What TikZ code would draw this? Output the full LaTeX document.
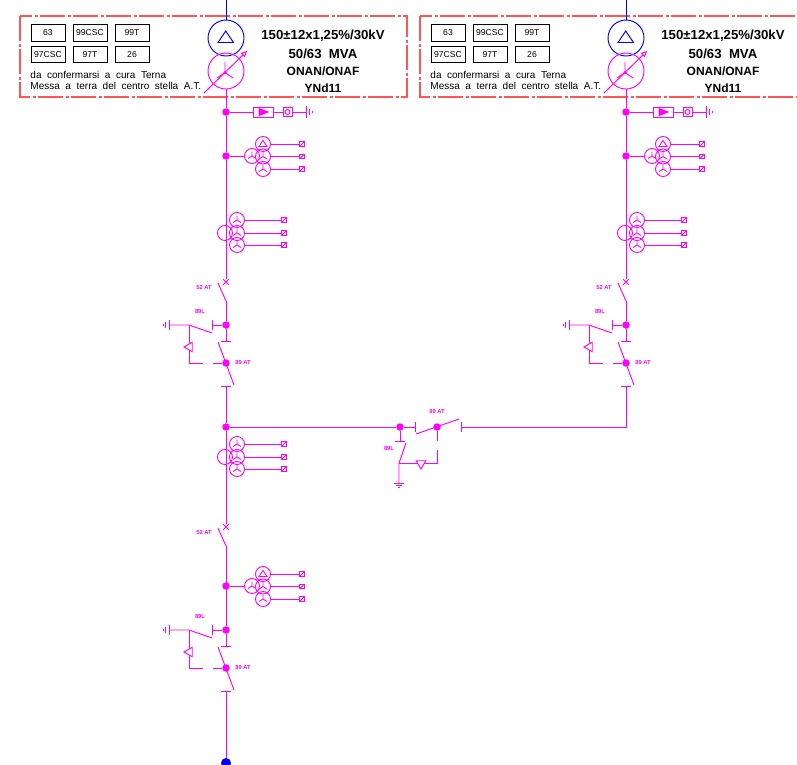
\documentclass[tikz,border=0pt]{standalone}
\usepackage{fontspec}
\setmainfont{Liberation Sans}
\usepackage{tikz}
\usetikzlibrary{shapes,arrows.meta}
\definecolor{plantline}{RGB}{255,0,255}
\definecolor{frameline}{RGB}{255,85,85}
\definecolor{hvline}{RGB}{0,0,255}

\begin{document}
\begin{tikzpicture}[x=1pt,y=-1pt,line width=0.95pt,plantline]
		\tikzstyle{frame}=[draw=frameline,line width=1.1pt,dash pattern=on 25pt off 2.5pt on 3pt off 2.5pt]
		\tikzstyle{relay}=[draw=black,rectangle,line width=0.7pt,text=black,font=\fontsize{8.6}{9}\selectfont,inner sep=0pt,minimum width=34pt,minimum height=16.5pt]
		\tikzstyle{note}=[text=black,font=\fontsize{10}{11}\selectfont,inner sep=0pt,anchor=west]
		\tikzstyle{rating}=[text=black,font=\fontsize{13.2}{14}\selectfont\bfseries,inner sep=0pt]
		\tikzstyle{ratingb}=[text=black,font=\fontsize{12}{14}\selectfont\bfseries,inner sep=0pt]
		\tikzstyle{winding}=[draw,circle,inner sep=0pt,minimum size=36pt]
		\tikzstyle{ring}=[draw,circle,inner sep=0pt,minimum size=15pt]
		\tikzstyle{wye}=[ring,path picture={\draw[line width=0.9pt] (path picture bounding box.center) -- ++(0,-4.5) (path picture bounding box.center) -- ++(-4,2.5) (path picture bounding box.center) -- ++(4,2.5);}]
		\tikzstyle{delta}=[ring,path picture={\draw[line width=0.9pt] ([shift={(-4,2.5)}]path picture bounding box.center) -- ++(8,0) -- ++(-4,-6) -- cycle;}]
		\tikzstyle{term}=[draw,rectangle,inner sep=0pt,minimum size=4.5pt,path picture={\draw[line width=0.8pt] (path picture bounding box.south west) -- (path picture bounding box.north east);}]
		\tikzstyle{blob}=[fill,circle,inner sep=0pt,minimum size=7.5pt]
		\tikzstyle{breaker}=[draw,cross out,inner sep=0pt,minimum size=4.5pt,line width=0.9pt]
		\tikzstyle{tag}=[font=\fontsize{5.8}{6}\selectfont\bfseries,inner sep=0pt]
		\tikzstyle{interlock}=[draw,fill=white,regular polygon,regular polygon sides=3,inner sep=0pt,minimum size=11pt]
		
		\useasboundingbox (0,0) rectangle (797,764);
		
		\foreach \dx/\n in {0/a,400/b}{
			\begin{scope}[xshift=\dx]
				\draw[frame] (20,16) rectangle (407,97);
				\foreach \x/\y/\t/\r in {48/33/63/p,90/33/99CSC/q,132/33/99T/r,48/54.5/97CSC/s,90/54.5/97T/t,132/54.5/26/u}{
					\node[relay] (rel\n\r) at (\x,\y) {\t};
				}
				\node[note] (conf\n) at (30,75) {da\ \ confermarsi\ \ a\ \ cura\ \ Terna};
				\node[note] (earth\n) at (30,85.5) {Messa\ \ a\ \ terra\ \ del\ \ centro\ \ stella\ \ A.T.};
				\node[rating] (volt\n) at (323,36) {150±12x1,25\%/30kV};
				\node[rating] (mva\n) at (323,54) {50/63\ \ MVA};
				\node[ratingb] (cool\n) at (323,71) {ONAN/ONAF};
				\node[ratingb] (vec\n) at (323,88) {YNd11};
				
				\coordinate (in\n) at (226,0);
				\node[winding,hvline] (hv\n) at (226,38) {};
				\node[winding] (lv\n) at (226,71) {};
				\draw[hvline] (in\n) -- (hv\n);
				\draw[hvline] (218,42.5) -- (233.5,42.5) -- (225.7,31) -- cycle;
				\node[blob,minimum size=3.5pt] (star\n) at (225,72.5) {};
				\draw (star\n.center) -- (225,62) (star\n.center) -- (217,78) (star\n.center) -- (233,78);
				\coordinate (tapa\n) at (204,93);
				\coordinate (tapb\n) at (247,51);
				\draw[-{Triangle[open,length=6pt,width=6pt]}] (tapa\n) -- (tapb\n);
				
				\node[blob] (jt\n) at (226,112) {};
				\node[draw,rectangle,minimum width=20pt,minimum height=10pt,inner sep=0pt] (arr\n) at (263,112) {};
				\draw[fill] (259,108.5) -- (268,112) -- (259,115.5) -- cycle;
				\node[draw,rectangle,minimum size=9pt,inner sep=0pt] (sq\n) at (287.5,112) {};
				\node[draw,circle,minimum size=5pt,inner sep=0pt] (sqc\n) at (287.5,112) {};
				\coordinate (gnd\n) at (306,112);
				\draw (jt\n) -- (arr\n) (arr\n) -- (sq\n) (sq\n) -- (gnd\n);
				\draw (306,106) -- (306,118);
				\draw[line width=0.7pt] (309,109) -- (309,115) (312,111) -- (312,113);
			\end{scope}
		}
		
		\foreach \dx/\dy/\n in {0/0/a,400/0/b,0/430/c}{
			\begin{scope}[shift={(\dx,\dy)}]
				\node[blob] (vt\n) at (226,156) {};
				\node[wye] (vta\n) at (252,156) {};
				\node[delta] (vtb\n) at (263,144) {};
				\node[wye] (vtc\n) at (263,156.5) {};
				\node[wye] (vtd\n) at (263,169) {};
				\draw (vt\n) -- (vta\n);
				\foreach \m in {b,c,d}{
					\node[term] (vte\m\n) at (302,0 |- vt\m\n) {};
					\draw (vt\m\n) -- (vte\m\n);
				}
			\end{scope}
		}
		
		\foreach \dx/\dy/\n in {0/0/a,400/0/b,0/224/c}{
			\begin{scope}[shift={(\dx,\dy)}]
				\node[wye] (cta\n) at (237,220) {};
				\node[wye] (ctb\n) at (237,233) {};
				\node[wye] (ctc\n) at (237,245) {};
				\node[ring] (ctr\n) at (225,233) {};
				\foreach \m in {a,b,c}{
					\node[term] (cte\m\n) at (284,0 |- ct\m\n) {};
					\draw (ct\m\n) -- (cte\m\n);
				}
			\end{scope}
		}
		
		\foreach \dx/\dy/\n in {0/0/a,400/0/b,0/245/c}{
			\begin{scope}[shift={(\dx,\dy)}]
				\node[breaker] (cb\n) at (226,282) {};
				\coordinate (bla\n) at (218,283);
				\coordinate (blb\n) at (226,301);
				\draw (bla\n) -- (blb\n);
				\node[tag] (cbt\n) at (204,287) {52 AT};
			\end{scope}
		}
		
		\foreach \dx/\dy/\n in {0/0/a,400/0/b,0/305/c}{
			\begin{scope}[shift={(\dx,\dy)}]
				\node[blob] (ds\n) at (226,325) {};
				\node[blob] (dn\n) at (226,363) {};
				\coordinate (dst\n) at (226,341);
				\coordinate (dse\n) at (212,325);
				\coordinate (lt\n) at (226,386);
				\coordinate (gd\n) at (169,325);
				\coordinate (hi\n) at (189,325);
				\coordinate (blc\n) at (212,333);
				\coordinate (cr\n) at (189,363);
				\coordinate (gp\n) at (203,363);
				\coordinate (ua\n) at (218,342);
				\coordinate (ub\n) at (234,385);
				\draw (ds\n) -- (dst\n);
				\draw (dse\n) -- (ds\n);
				\draw (gd\n) -- (hi\n) -- (blc\n);
				\draw (hi\n) -- (cr\n) -- (gp\n);
				\draw (213,363) -- (dn\n);
				\draw (ua\n) -- (ub\n);
				\draw (221,341) -- (231,341) (212,320) -- (212,330) (221,386) -- (231,386);
				\draw (169,320) -- (169,330);
				\draw[line width=0.7pt] (165.5,322) -- (165.5,328) (163,324) -- (163,326);
				\node[interlock,shape border rotate=90] (lk\n) at (189.5,347) {};
				\node[tag] (dsl\n) at (200,311) {89L};
				\node[tag] (dnt\n) at (243,362) {89 AT};
			\end{scope}
		}
		
		\draw (lva) -- (jta) -- (vta) -- (cba);
		\draw (lvb) -- (jtb) -- (vtb) -- (cbb);
		\draw (blba) -- (dsa);
		\draw (blbb) -- (dsb);
		\draw (blbc) -- (dsc);
		\coordinate (jend) at (226,763);
		\draw (ltc) -- (jend);
		\node[blob,hvline,minimum size=10pt] (endb) at (jend) {};
		
		\node[blob] (jm) at (226,427) {};
		\draw (lta) -- (jm) -- (cbc);
		
		\node[blob] (tiel) at (400,427) {};
		\coordinate (tieg) at (415,427);
		\node[blob] (tiem) at (437,427) {};
		\coordinate (tieh) at (461,427);
		\coordinate (tier) at (626,427);
		\draw (jm) -- (tiel) -- (tieg);
		\draw (415,422) -- (415,432) (461,422) -- (461,432);
		\draw (tieh) -- (tier) -- (ltb);
		\coordinate (tiea) at (416,434);
		\coordinate (tieb) at (459,419);
		\draw (tiea) -- (tieb);
		\coordinate (ted) at (400,441);
		\draw (tiel) -- (ted);
		\draw (395,441) -- (405,441);
		\coordinate (tea) at (406,443);
		\coordinate (teb) at (399,463);
		\coordinate (tec) at (399,483);
		\draw (tea) -- (teb) -- (tec);
		\draw (394,483) -- (404,483);
		\draw[line width=0.7pt] (396,485) -- (402,485) (398,487) -- (400,487);
		\coordinate (tef) at (437,441);
		\coordinate (teg) at (437,450);
		\coordinate (teh) at (437,463);
		\draw (tiem) -- (tef);
		\draw (teb) -- (teh) -- (teg);
		\node[interlock,shape border rotate=180] (lkm) at (421,463.5) {};
		\node[tag] (tiet) at (437,411) {89 AT};
		\node[tag] (teet) at (389,448) {89L};
		
		\end{tikzpicture}
\end{document}
